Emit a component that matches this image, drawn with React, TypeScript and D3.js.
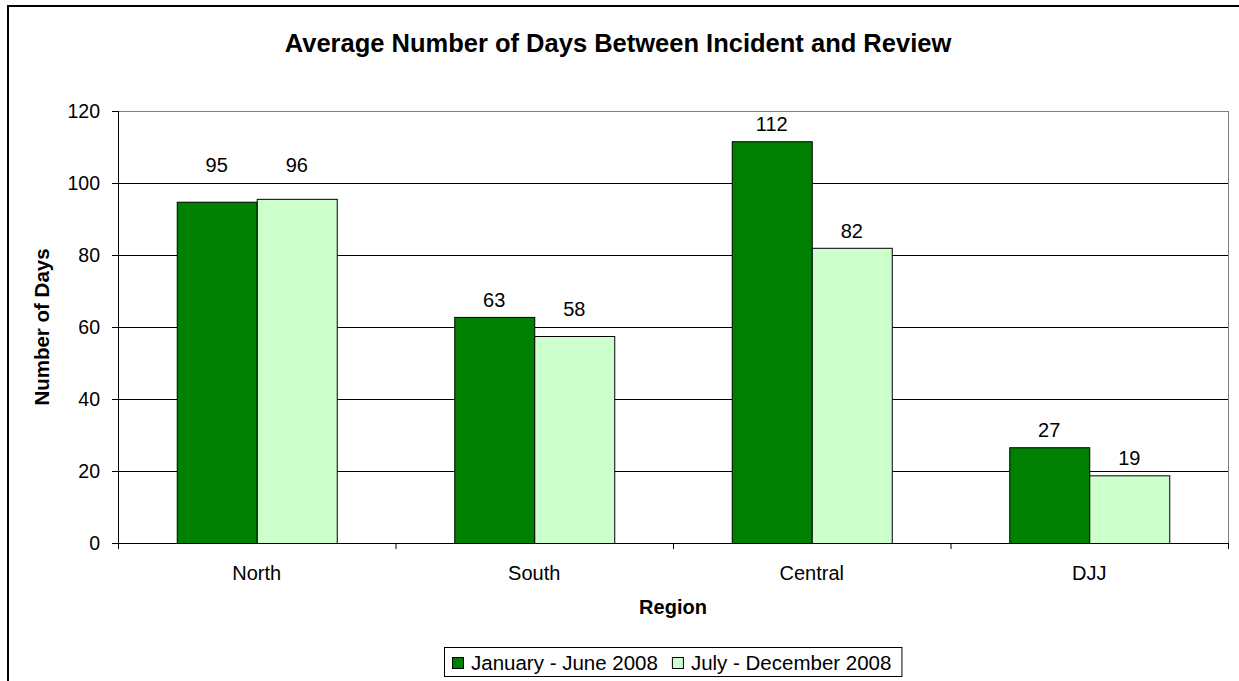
import React from "react";
import * as d3 from "d3";

const categories = ["North", "South", "Central", "DJJ"];
const seriesNames = ["January - June 2008", "July - December 2008"];
const janJun = [94.8, 62.8, 111.6, 26.6];
const julDec = [95.6, 57.5, 82.0, 18.8];
const yTicks = [0, 20, 40, 60, 80, 100, 120];
const colors = ["#008000", "#CCFFCC"];

const W = 1239;
const H = 681;
const FONT = "'Liberation Sans', Arial, sans-serif";

function measure(text: string, size: number, weight = "normal") {
  const ctx = document.createElement("canvas").getContext("2d");
  if (!ctx) return text.length * size * 0.5;
  ctx.font = `${weight} ${size}px 'Liberation Sans', Arial, sans-serif`;
  return ctx.measureText(text).width;
}

export default function App() {
  const left = 118, right = 1228, top = 111, bottom = 543;
  const y = d3.scaleLinear().domain([0, 120]).range([bottom, top]);
  const x = d3.scaleBand<string>().domain(categories).range([left, right]).paddingInner(0.4234).paddingOuter(0.2117);
  const xs = d3.scaleBand<string>().domain(seriesNames).range([0, x.bandwidth()]).padding(0);
  const series = [janJun, julDec];
  const step = x.step();
  const gridYs = yTicks.map((t) => y(t));

  const labelY = (v: number) => {
    let c = y(v) - 17;
    const near = gridYs.find((g) => Math.abs(g - c) < 9 && g !== y(0));
    if (near !== undefined) c = near - 18;
    return c;
  };

  // legend layout
  const legFont = 20.5;
  const w0 = measure(seriesNames[0], legFont);
  const w1 = measure(seriesNames[1], legFont);
  const legW = 8 + 19 + w0 + 14 + 19 + w1 + 10;
  const legL = Math.round((left + right) / 2 - legW / 2);
  const legTop = 647;
  const legH = 29;
  const swX = [legL + 8, legL + 8 + 19 + w0 + 14];

  return (
    <svg width={W} height={H} style={{ position: "absolute", left: 0, top: 0, background: "#fff" }} fontFamily={FONT}>
      <rect x={8} y={6} width={1240} height={700} fill="#fff" stroke="#000" strokeWidth={2} />
      <text x={618} y={52} textAnchor="middle" fontSize={25.5} fontWeight="bold">Average Number of Days Between Incident and Review</text>

      {/* gridlines */}
      {yTicks.filter((t) => t > 0 && t < 120).map((t) => (
        <line key={t} x1={left} x2={right} y1={y(t) + 0.5} y2={y(t) + 0.5} stroke="#000" strokeWidth={1} />
      ))}
      {/* plot border top/right */}
      <line x1={left} x2={right + 0.5} y1={y(120) + 0.5} y2={y(120) + 0.5} stroke="#808080" strokeWidth={1} />
      <line x1={right + 0.5} x2={right + 0.5} y1={y(120)} y2={bottom} stroke="#808080" strokeWidth={1} />

      {/* bars */}
      {categories.map((c, i) => (
        <g key={c}>
          {series.map((s, j) => (
            <rect key={j} x={(x(c) as number) + (xs(seriesNames[j]) as number) + 0.5} y={y(s[i]) + 0.5}
              width={xs.bandwidth()} height={bottom - y(s[i])} fill={colors[j]} stroke="#000" strokeWidth={1} />
          ))}
          {series.map((s, j) => (
            <text key={"l" + j} x={(x(c) as number) + (xs(seriesNames[j]) as number) + xs.bandwidth() / 2}
              y={labelY(s[i])} textAnchor="middle" dominantBaseline="central" fontSize={20}>{Math.round(s[i])}</text>
          ))}
        </g>
      ))}

      {/* axes */}
      <line x1={left + 0.5} x2={left + 0.5} y1={top} y2={bottom + 6} stroke="#000" strokeWidth={1} />
      <line x1={left - 6} x2={right} y1={bottom + 0.5} y2={bottom + 0.5} stroke="#000" strokeWidth={1} />
      {yTicks.map((t) => (
        <g key={t}>
          <line x1={left - 6} x2={left} y1={y(t) + 0.5} y2={y(t) + 0.5} stroke="#000" />
          <text x={100} y={y(t)} textAnchor="end" dominantBaseline="central" fontSize={19.5}>{t}</text>
        </g>
      ))}
      {d3.range(categories.length + 1).map((i) => (
        <line key={i} x1={left + i * step + 0.5} x2={left + i * step + 0.5} y1={bottom} y2={bottom + 6} stroke="#000" />
      ))}
      {categories.map((c) => (
        <text key={c} x={(x(c) as number) + x.bandwidth() / 2} y={580} textAnchor="middle" fontSize={20}>{c}</text>
      ))}
      <text x={(left + right) / 2} y={614} textAnchor="middle" fontSize={20} fontWeight="bold">Region</text>
      <text transform={`translate(49, ${(top + bottom) / 2}) rotate(-90)`} textAnchor="middle" fontSize={20.5} fontWeight="bold">Number of Days</text>

      {/* legend */}
      <rect x={legL + 0.5} y={legTop + 0.5} width={legW} height={legH} fill="#fff" stroke="#000" strokeWidth={1} />
      {seriesNames.map((n, j) => (
        <g key={n}>
          <rect x={swX[j] + 0.5} y={legTop + 10.5} width={11} height={11} fill={colors[j]} stroke="#000" />
          <text x={swX[j] + 19} y={legTop + legH / 2 + 1} dominantBaseline="central" fontSize={legFont}>{n}</text>
        </g>
      ))}
    </svg>
  );
}
